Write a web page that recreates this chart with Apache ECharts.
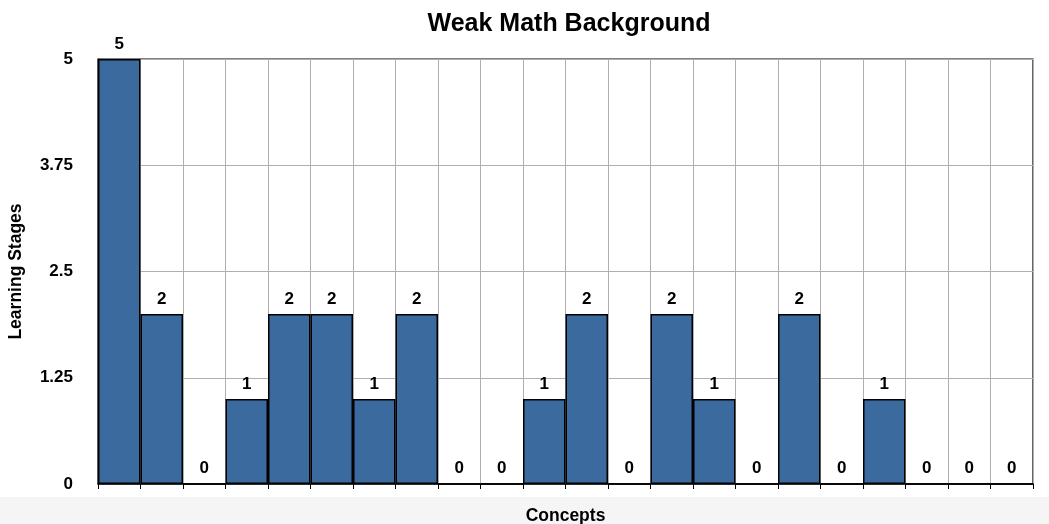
<!DOCTYPE html>
<html>
<head>
<meta charset="utf-8">
<script src="https://cdn.jsdelivr.net/npm/echarts@6/dist/echarts.min.js"></script>
<style>
  html, body { margin: 0; padding: 0; background: #ffffff; }
  #chart { width: 1049px; height: 524px; }
</style>
</head>
<body>
<div id="chart"></div>
<script>
// Learning stage reached for each concept
const concepts = ['C1','C2','C3','C4','C5','C6','C7','C8','C9','C10','C11',
                  'C12','C13','C14','C15','C16','C17','C18','C19','C20','C21','C22'];
const stages = [5, 2, 0, 1, 2, 2, 1, 2, 0, 0, 1, 2, 0, 2, 1, 0, 2, 0, 1, 0, 0, 0];
const yTicks = [0, 1.25, 2.5, 3.75, 5];

// half-category slots used only to draw the small ticks under the axis
const halfSlots = concepts.flatMap(c => [c + 'a', c + 'b']);

const font = 'Liberation Sans, Arial, Helvetica, sans-serif';
const chart = echarts.init(document.getElementById('chart'), null, { renderer: 'canvas' });

chart.setOption({
  backgroundColor: '#ffffff',
  animation: false,
  title: {
    text: 'Weak Math Background',
    left: 564, top: 7, textAlign: 'center',
    textStyle: { fontFamily: font, fontSize: 25, fontWeight: 'bold', color: '#000' }
  },
  graphic: [{
    type: 'rect', z: -10, silent: true,
    shape: { x: 0, y: 497, width: 1049, height: 27 },
    style: { fill: '#f5f5f5' }
  }],
  grid: {
    left: 98, right: 16, top: 59, bottom: 40,
    outerBoundsMode: 'none',
    containLabel: false,
    show: true, borderColor: '#000', borderWidth: 1.2, backgroundColor: 'transparent'
  },
  xAxis: [{
    type: 'category',
    data: concepts,
    boundaryGap: true,
    name: 'Concepts',
    nameLocation: 'middle',
    nameGap: 23,
    nameTextStyle: { fontFamily: font, fontSize: 17.5, fontWeight: 'bold', color: '#000' },
    axisLine: { lineStyle: { color: '#000', width: 1.5 } },
    axisTick: { show: true, length: 5, lineStyle: { color: '#000' } },
    axisLabel: { show: false },
    splitLine: { show: true, lineStyle: { color: '#b0b0b0', width: 1 } }
  }, {
    type: 'category',
    data: halfSlots,
    position: 'bottom',
    boundaryGap: true,
    axisLine: { show: false },
    axisTick: { show: true, length: 4, lineStyle: { color: '#000' } },
    axisLabel: { show: false },
    splitLine: { show: false }
  }],
  yAxis: {
    type: 'value',
    min: yTicks[0], max: yTicks[yTicks.length - 1], interval: yTicks[1] - yTicks[0],
    name: 'Learning Stages',
    nameLocation: 'middle',
    nameGap: 73,
    nameTextStyle: { fontFamily: font, fontSize: 17.5, fontWeight: 'bold', color: '#000' },
    axisLine: { show: true, lineStyle: { color: '#000', width: 1.2 } },
    axisTick: { show: false },
    axisLabel: {
      fontFamily: font, fontSize: 17, fontWeight: 'bold', color: '#000',
      margin: 25, padding: [10, 0, 0, 0]
    },
    splitLine: { show: true, lineStyle: { color: '#b0b0b0', width: 1 } }
  },
  series: [{
    type: 'bar',
    data: stages,
    xAxisIndex: 0,
    barCategoryGap: '0%',
    itemStyle: { color: '#3b6a9f', borderColor: '#000', borderWidth: 1.5 },
    label: {
      show: true, position: 'top', distance: 6,
      fontFamily: font, fontSize: 17, fontWeight: 'bold', color: '#000'
    }
  }]
});
</script>
</body>
</html>
